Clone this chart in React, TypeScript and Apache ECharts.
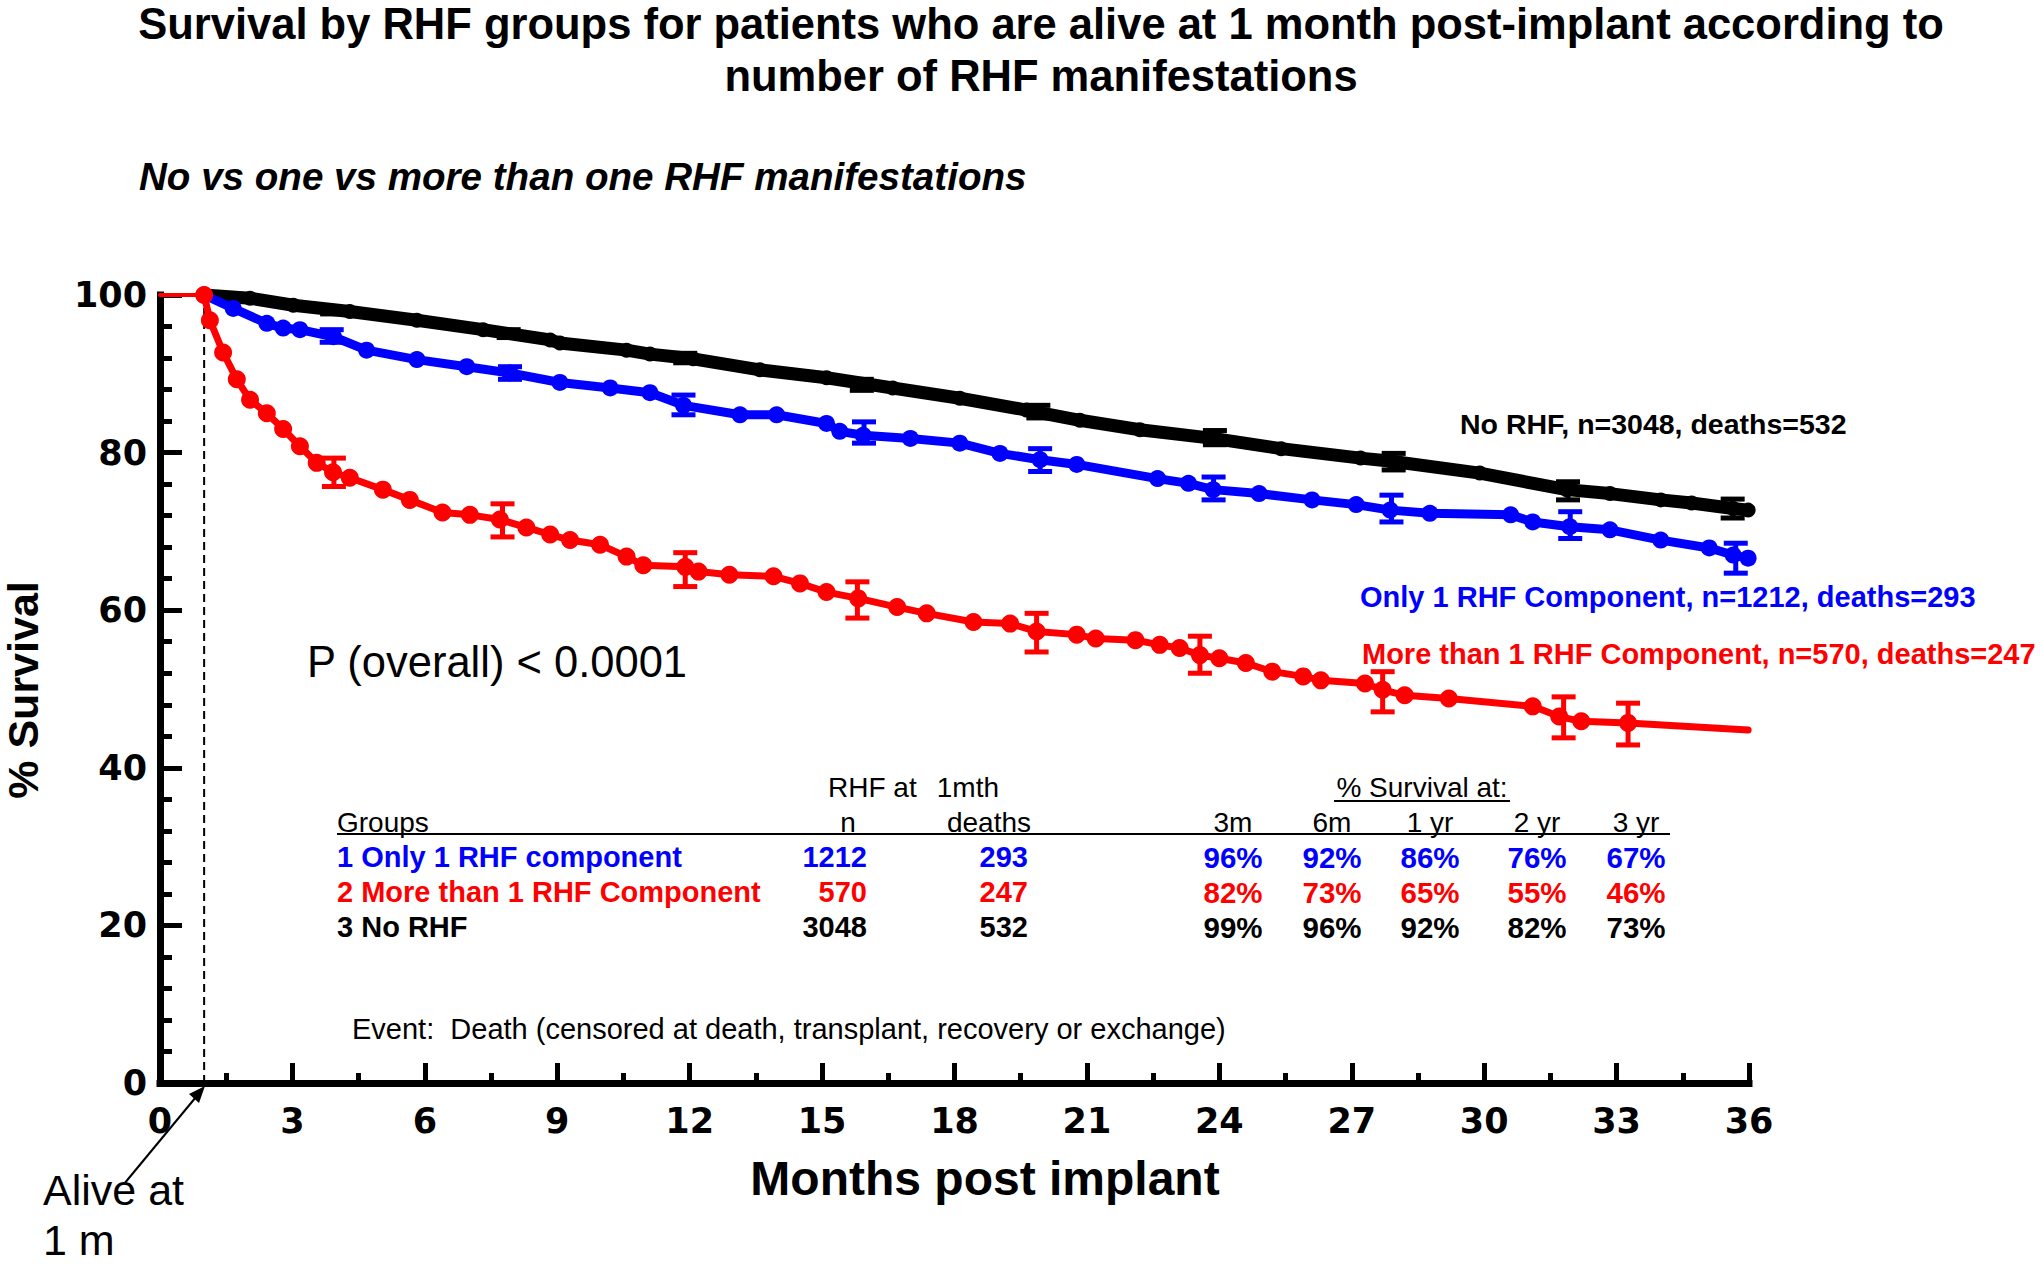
import React, { useEffect, useRef } from 'react';
import * as echarts from 'echarts';

// ---- Data ----
const noRhf: number[][] = [
  [1, 100], [2.04, 99.6], [3.02, 98.7], [4.3, 97.9], [5.82, 96.8], [7.32, 95.6], [8.84, 94.3],
  [9.06, 93.9], [10.57, 93.0], [11.1, 92.5], [12.08, 91.9], [13.59, 90.5], [15.1, 89.5],
  [16.6, 88.2], [18.12, 86.9], [19.63, 85.4], [20.84, 84.1], [22.2, 82.9], [23.86, 81.8],
  [25.4, 80.5], [27.2, 79.3], [27.9, 78.9], [29.9, 77.4], [31.87, 75.3], [32.85, 74.8],
  [34, 74.0], [34.7, 73.6], [35.64, 72.9], [35.98, 72.7],
];
const oneRhf: number[][] = [
  [1, 100], [1.66, 98.3], [2.42, 96.4], [2.79, 95.8], [3.17, 95.6], [3.93, 94.7], [4.68, 93.0],
  [5.82, 91.8], [6.95, 90.9], [7.93, 90.1], [9.06, 88.9], [10.2, 88.2], [11.1, 87.6],
  [11.86, 86.0], [13.14, 84.8], [13.97, 84.8], [15.1, 83.7], [15.4, 82.7], [15.93, 82.2],
  [17.0, 81.8], [18.12, 81.2], [19.03, 79.9], [19.94, 79.1], [20.77, 78.5], [22.6, 76.7],
  [23.3, 76.1], [23.86, 75.3], [24.9, 74.8], [26.1, 74.0], [27.1, 73.4], [27.87, 72.7],
  [28.77, 72.3], [30.6, 72.1], [31.1, 71.2], [31.94, 70.6], [32.85, 70.2], [34, 68.9],
  [35.1, 67.9], [35.64, 67.0], [35.98, 66.6],
];
const moreRhfPre: number[][] = [[0, 100], [1, 100]];
const moreRhf: number[][] = [
  [1, 100], [1.13, 96.8], [1.43, 92.7], [1.74, 89.3], [2.04, 86.7], [2.42, 85.0], [2.79, 83.0],
  [3.17, 80.8], [3.55, 78.7], [3.92, 77.5], [4.3, 76.8], [5.05, 75.3], [5.66, 74.0],
  [6.4, 72.4], [7.02, 72.1], [7.7, 71.5], [8.3, 70.5], [8.84, 69.6], [9.29, 68.9],
  [9.97, 68.3], [10.57, 66.8], [10.95, 65.7], [11.9, 65.5], [12.2, 64.9], [12.9, 64.5],
  [13.9, 64.3], [14.5, 63.4], [15.1, 62.3], [15.82, 61.5], [16.7, 60.4], [17.37, 59.6],
  [18.43, 58.5], [19.26, 58.3], [19.86, 57.3], [20.77, 56.9], [21.2, 56.4], [22.1, 56.2],
  [22.65, 55.6], [23.1, 55.2], [23.56, 54.3], [24.0, 53.9], [24.6, 53.3], [25.2, 52.2],
  [25.9, 51.6], [26.3, 51.1], [27.3, 50.7], [27.7, 49.9], [28.2, 49.2], [29.2, 48.8],
  [31.1, 47.8], [31.7, 46.5], [32.2, 45.9], [33.26, 45.7], [35.98, 44.8],
];
// error bars: [month, low, high]
const noRhfErr: number[][] = [
  [3.9, 97.6, 98.4], [7.9, 94.6, 95.6], [11.9, 91.4, 92.6], [15.9, 87.9, 89.3],
  [19.9, 84.4, 86.0], [23.9, 81.0, 82.8], [27.95, 77.8, 79.9], [31.9, 74.0, 76.3],
  [35.63, 71.7, 74.1],
];
const oneRhfErr: number[][] = [
  [3.89, 94.0, 95.6], [7.93, 89.3, 90.9], [11.86, 84.8, 87.3], [15.95, 81.2, 83.9],
  [19.94, 77.6, 80.5], [23.87, 74.0, 76.9], [27.9, 71.2, 74.6], [31.95, 69.1, 72.5],
  [35.7, 64.7, 68.5],
];
const moreRhfErr: number[][] = [
  [3.94, 75.7, 79.3], [7.76, 69.3, 73.5], [11.9, 63.0, 67.3], [15.8, 59.0, 63.6],
  [19.86, 54.7, 59.6], [23.56, 52.0, 56.7], [27.7, 47.1, 52.2], [31.8, 43.8, 49.0],
  [33.26, 42.9, 48.2],
];
const alivePoint: number[][] = [[1, 0], [1, 100]];

// table
const groupNames = ['1 Only 1 RHF component', '2 More than 1 RHF Component', '3 No RHF'];
const groupN = [1212, 570, 3048];
const groupDeaths = [293, 247, 532];
const survivalCols = ['3m', '6m', '1 yr', '2 yr', '3 yr'];
const survivalPct = [
  [96, 92, 86, 76, 67],
  [82, 73, 65, 55, 46],
  [99, 96, 92, 82, 73],
];
const curveLabels = [
  'No RHF, n=3048, deaths=532',
  'Only 1 RHF Component, n=1212, deaths=293',
  'More than 1 RHF Component, n=570, deaths=247',
];

const BLUE = '#0000ff';
const RED = '#ff0000';
const BLACK = '#000000';
const SANS = 'Liberation Sans, Arial, sans-serif';

function errSeries(data: number[][], color: string) {
  return {
    type: 'custom',
    data,
    encode: { x: 0, y: [1, 2] },
    silent: true,
    z: 5,
    renderItem: (_p: any, api: any) => {
      const x = api.value(0);
      const lo = api.coord([x, api.value(1)]);
      const hi = api.coord([x, api.value(2)]);
      const w = 12;
      const st = { stroke: color, lineWidth: 5 };
      return {
        type: 'group',
        children: [
          { type: 'line', shape: { x1: lo[0], y1: lo[1], x2: hi[0], y2: hi[1] }, style: st },
          { type: 'line', shape: { x1: lo[0] - w, y1: lo[1], x2: lo[0] + w, y2: lo[1] }, style: st },
          { type: 'line', shape: { x1: hi[0] - w, y1: hi[1], x2: hi[0] + w, y2: hi[1] }, style: st },
        ],
      };
    },
  };
}

function curve(data: number[][], color: string, width: number, size: number, z: number, lastPlain = false) {
  return {
    type: 'line',
    data: data.map((d, i) =>
      lastPlain && i === data.length - 1 ? { value: d, symbolSize: 0 } : d
    ),
    symbol: 'circle',
    symbolSize: size,
    showSymbol: true,
    itemStyle: { color },
    lineStyle: { color, width, cap: 'round', join: 'round' },
    silent: true,
    z,
  };
}

function txt(text: string, x: number, y: number, opts: any = {}) {
  return {
    type: 'text',
    x,
    y,
    rotation: opts.rotation || 0,
    style: {
      text,
      fill: opts.color || BLACK,
      fontSize: opts.size || 28,
      fontWeight: opts.weight || 'normal',
      fontStyle: opts.style || 'normal',
      fontFamily: opts.family || SANS,
      align: opts.align || 'left',
      textAlign: opts.align || 'left',
      verticalAlign: 'middle',
      textVerticalAlign: 'middle',
    },
    z: 100,
  };
}

export default function App() {
  const ref = useRef<HTMLDivElement>(null);
  useEffect(() => {
    document.body.style.margin = '0';
    if (!ref.current) return;
    const chart = echarts.init(ref.current, undefined, { renderer: 'svg' });

    const colCenters = [1233, 1332, 1430, 1537, 1636];
    const rowY = [857, 892, 927];
    const colors = [BLUE, RED, BLACK];
    const graphics: any[] = [
      txt('Survival by RHF groups for patients who are alive at 1 month post-implant according to', 1041, 24, { size: 43.5, weight: 'bold', align: 'center' }),
      txt('number of RHF manifestations', 1041, 76, { size: 43.5, weight: 'bold', align: 'center' }),
      txt('No vs one vs more than one RHF manifestations', 139, 176, { size: 38.6, weight: 'bold', style: 'italic' }),
      txt('% Survival', 23, 690, { size: 43, weight: 'bold', align: 'center', rotation: Math.PI / 2 }),
      txt('Months post implant', 985, 1178, { size: 48, weight: 'bold', align: 'center' }),
      txt('P (overall) < 0.0001', 307, 662, { size: 43.5 }),
      txt(curveLabels[0], 1460, 424, { size: 28.5, weight: 'bold', color: BLACK }),
      txt(curveLabels[1], 1360, 597, { size: 29, weight: 'bold', color: BLUE }),
      txt(curveLabels[2], 1362, 654, { size: 29, weight: 'bold', color: RED }),
      // table header
      txt('RHF at', 828, 787, { size: 28 }),
      txt('1mth', 999, 787, { size: 28, align: 'right' }),
      txt('% Survival at:', 1422, 787, { size: 28, align: 'center' }),
      { type: 'line', shape: { x1: 1334, y1: 801, x2: 1510, y2: 801 }, style: { stroke: BLACK, lineWidth: 2 }, z: 100 },
      txt('Groups', 337, 822, { size: 28 }),
      txt('n', 848, 822, { size: 28, align: 'center' }),
      txt('deaths', 989, 822, { size: 28, align: 'center' }),
      ...survivalCols.map((c, i) => txt(c, colCenters[i], 822, { size: 28, align: 'center' })),
      { type: 'line', shape: { x1: 337, y1: 834, x2: 1670, y2: 834 }, style: { stroke: BLACK, lineWidth: 2 }, z: 100 },
      txt('Event:  Death (censored at death, transplant, recovery or exchange)', 352, 1029, { size: 29 }),
      txt('Alive at', 43, 1190, { size: 43 }),
      txt('1 m', 43, 1240, { size: 43 }),
      { type: 'line', shape: { x1: 124, y1: 1184, x2: 196, y2: 1097 }, style: { stroke: BLACK, lineWidth: 2 }, z: 100 },
      { type: 'polygon', shape: { points: [[205, 1086], [199, 1103], [189, 1094]] }, style: { fill: BLACK }, z: 100 },
    ];
    groupNames.forEach((g, r) => {
      const col = colors[r];
      graphics.push(txt(g, 337, rowY[r], { size: 29, weight: 'bold', color: col }));
      graphics.push(txt(String(groupN[r]), 867, rowY[r], { size: 29, weight: 'bold', color: col, align: 'right' }));
      graphics.push(txt(String(groupDeaths[r]), 1028, rowY[r], { size: 29, weight: 'bold', color: col, align: 'right' }));
      survivalPct[r].forEach((p, i) =>
        graphics.push(txt(p + '%', colCenters[i], rowY[r], { size: 29.5, weight: 'bold', color: col, align: 'center' }))
      );
    });

    const axisCommon = {
      axisLine: { show: true, onZero: false, lineStyle: { color: BLACK, width: 7, cap: 'square' } },
      splitLine: { show: false },
      axisLabel: { color: BLACK, fontFamily: 'DejaVu Sans', fontWeight: 'bold', fontSize: 35 },
    };

    chart.setOption({
      animation: false,
      backgroundColor: '#ffffff',
      grid: { left: 160, right: 291, top: 295, bottom: 181, containLabel: false },
      xAxis: {
        type: 'value',
        min: 0,
        max: 36,
        interval: 3,
        ...axisCommon,
        axisTick: { show: true, inside: true, length: 20, lineStyle: { color: BLACK, width: 5 } },
        minorTick: { show: true, splitNumber: 2, length: 10, lineStyle: { color: BLACK, width: 5 } },
        axisLabel: { ...axisCommon.axisLabel, margin: 20 },
      },
      yAxis: {
        type: 'value',
        min: 0,
        max: 100,
        interval: 20,
        ...axisCommon,
        axisTick: { show: true, inside: true, length: 22, lineStyle: { color: BLACK, width: 5 } },
        minorTick: { show: true, splitNumber: 5, length: 12, lineStyle: { color: BLACK, width: 5 } },
        axisLabel: { ...axisCommon.axisLabel, margin: 13 },
      },
      series: [
        {
          type: 'line',
          data: alivePoint,
          symbol: 'none',
          lineStyle: { color: BLACK, width: 2, type: [8, 5] },
          silent: true,
          z: 1,
        },
        curve(noRhf, BLACK, 13, 15, 2),
        errSeries(noRhfErr, BLACK),
        curve(oneRhf, BLUE, 9, 17, 3),
        errSeries(oneRhfErr, BLUE),
        { ...curve(moreRhfPre, RED, 4, 0, 4), symbol: 'none' },
        curve(moreRhf, RED, 7, 18, 4, true),
        errSeries(moreRhfErr, RED),
      ],
      graphic: graphics,
    });
    return () => chart.dispose();
  }, []);
  return <div ref={ref} style={{ width: 2040, height: 1264, overflow: 'hidden' }} />;
}
